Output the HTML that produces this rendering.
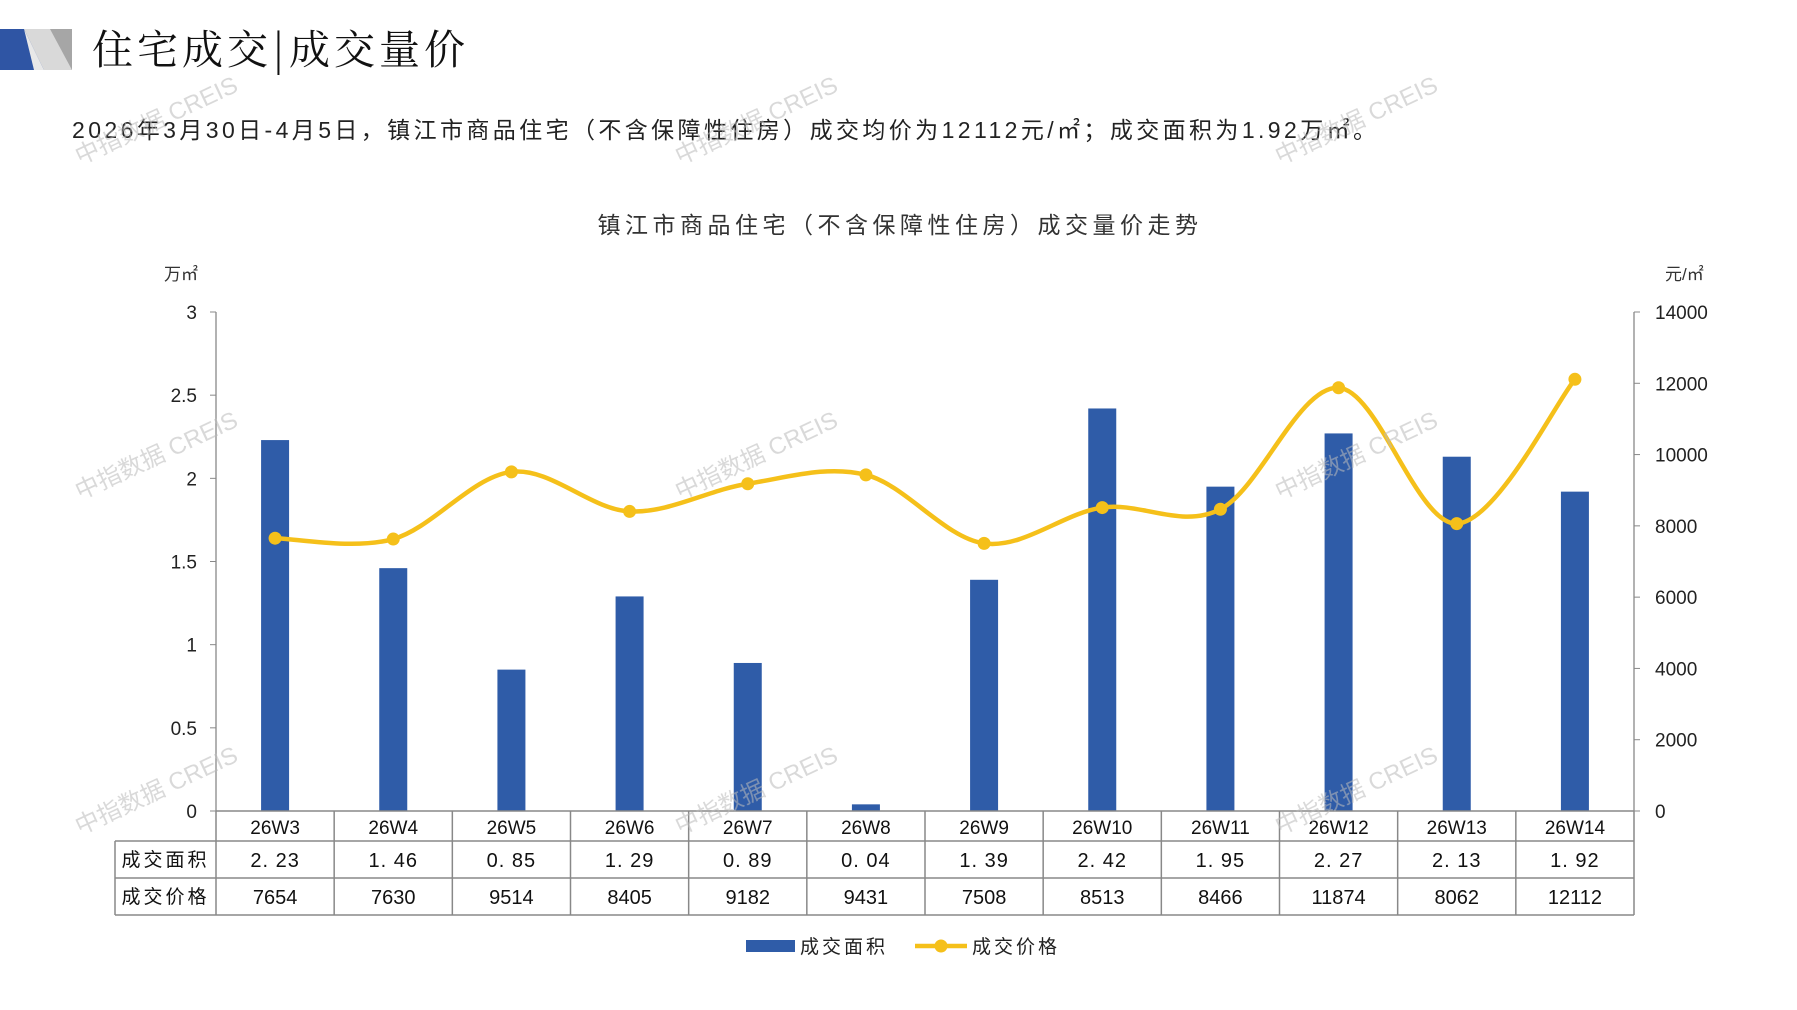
<!DOCTYPE html>
<html><head><meta charset="utf-8">
<style>
body{margin:0;background:#fff;width:1797px;height:1010px;overflow:hidden;font-family:"Liberation Sans","Noto Sans CJK SC",sans-serif;}
svg{position:absolute;left:0;top:0}
</style></head><body>
<svg id="s" width="1797" height="1010" xmlns="http://www.w3.org/2000/svg" font-family="'Liberation Sans','Noto Sans CJK SC',sans-serif">
<polygon points="0,29 34,29 44,70 0,70" fill="#2f55a4"/>
<polygon points="24,29 72,29 72,70 44,70" fill="#d9d9d9"/>
<polygon points="50,29 72,29 72,70" fill="#a6a6a6"/>
<polygon points="24,29 44,70 34,70" fill="#e8e8e8"/>
<text x="92" y="64" font-size="41" fill="#111" letter-spacing="4" font-family="'Noto Serif CJK SC','Noto Sans CJK SC',serif">住宅成交|成交量价</text>
<text x="72" y="138" font-size="23" fill="#222" letter-spacing="3.4">2026年3月30日-4月5日，镇江市商品住宅（不含保障性住房）成交均价为12112元/㎡；成交面积为1.92万㎡。</text>
<text x="900" y="233" font-size="23" fill="#333" text-anchor="middle" letter-spacing="4.5">镇江市商品住宅（不含保障性住房）成交量价走势</text>
<text x="164" y="280" font-size="17" fill="#333">万㎡</text>
<text x="1665" y="280" font-size="17" fill="#333">元/㎡</text>
<g id="g"></g>
</svg>
<script>
const g=document.getElementById('g');let h='';
const L=216,R=1634,Y0=811,Y3=312,cw=(R-L)/12;
const cats=['26W3','26W4','26W5','26W6','26W7','26W8','26W9','26W10','26W11','26W12','26W13','26W14'];
const a=[2.23,1.46,0.85,1.29,0.89,0.04,1.39,2.42,1.95,2.27,2.13,1.92];
const p=[7654,7630,9514,8405,9182,9431,7508,8513,8466,11874,8062,12112];
const ya=v=>Y0-(Y0-Y3)*v/3, yp=v=>Y0-(Y0-Y3)*v/14000;
h+=`<line x1="${L}" y1="${Y3}" x2="${L}" y2="${Y0}" stroke="#888" stroke-width="1.3"/>`;
h+=`<line x1="${R}" y1="${Y3}" x2="${R}" y2="${Y0}" stroke="#888" stroke-width="1.3"/>`;
for(let i=0;i<=6;i++){const v=i*0.5,y=ya(v);
 h+=`<line x1="${L-6}" y1="${y}" x2="${L}" y2="${y}" stroke="#888"/>`;
 h+=`<text x="${L-19}" y="${y+7}" font-size="19" text-anchor="end" fill="#222">${v===0?'0':v}</text>`;}
for(let i=0;i<=7;i++){const v=i*2000,y=yp(v);
 h+=`<line x1="${R}" y1="${y}" x2="${R+6}" y2="${y}" stroke="#888"/>`;
 h+=`<text x="${R+21}" y="${y+7}" font-size="19" fill="#222">${v}</text>`;}
a.forEach((v,i)=>{const cx=L+cw*(i+0.5);h+=`<rect x="${cx-14}" y="${ya(v)}" width="28" height="${Y0-ya(v)}" fill="#2f5ca8"/>`;});
const TL=115,r1=Y0,r2=841,r3=878,r4=915;
h+=`<g stroke="#888" stroke-width="1.5" fill="none"><line x1="${L}" y1="${r1}" x2="${R}" y2="${r1}"/><line x1="${TL}" y1="${r2}" x2="${R}" y2="${r2}"/><line x1="${TL}" y1="${r3}" x2="${R}" y2="${r3}"/><line x1="${TL}" y1="${r4}" x2="${R}" y2="${r4}"/><line x1="${TL}" y1="${r2}" x2="${TL}" y2="${r4}"/>`;
for(let i=0;i<=12;i++){const x=L+cw*i;h+=`<line x1="${x}" y1="${r1}" x2="${x}" y2="${r4}"/>`;}
h+='</g>';
cats.forEach((c,i)=>{const cx=L+cw*(i+0.5);
 h+=`<text x="${cx}" y="${r1+23}" font-size="19" text-anchor="middle" fill="#111">${c}</text>`;
 h+=`<text x="${cx}" y="${r2+26}" font-size="20" text-anchor="middle" fill="#111" letter-spacing="1">${a[i].toFixed(2).replace('.', '. ')}</text>`;
 h+=`<text x="${cx}" y="${r3+26}" font-size="20" text-anchor="middle" fill="#111">${p[i]}</text>`;});
h+=`<text x="${(TL+L)/2}" y="${r2+25}" font-size="19" text-anchor="middle" fill="#111" letter-spacing="3">成交面积</text>`;
h+=`<text x="${(TL+L)/2}" y="${r3+25}" font-size="19" text-anchor="middle" fill="#111" letter-spacing="3">成交价格</text>`;
const pts=p.map((v,i)=>[L+cw*(i+0.5),yp(v)]);
let d=`M${pts[0][0]},${pts[0][1]}`;
for(let i=0;i<pts.length-1;i++){const p0=pts[Math.max(0,i-1)],p1=pts[i],p2=pts[i+1],p3=pts[Math.min(pts.length-1,i+2)];
 const c1=[p1[0]+(p2[0]-p0[0])/6,p1[1]+(p2[1]-p0[1])/6],c2=[p2[0]-(p3[0]-p1[0])/6,p2[1]-(p3[1]-p1[1])/6];
 d+=` C${c1[0]},${c1[1]} ${c2[0]},${c2[1]} ${p2[0]},${p2[1]}`;}
h+=`<path d="${d}" fill="none" stroke="#f5c01a" stroke-width="4.5"/>`;
pts.forEach(q=>h+=`<circle cx="${q[0]}" cy="${q[1]}" r="6.5" fill="#f5c01a"/>`);
h+=`<rect x="746" y="940" width="49" height="12" fill="#2f5ca8"/><text x="800" y="953" font-size="19" fill="#222" letter-spacing="3">成交面积</text>`;
h+=`<line x1="915" y1="946" x2="967" y2="946" stroke="#f5c01a" stroke-width="4.5"/><circle cx="941" cy="946" r="6.5" fill="#f5c01a"/><text x="972" y="953" font-size="19" fill="#222" letter-spacing="3">成交价格</text>`;
[[80,165],[680,165],[1280,165],[80,500],[680,500],[1280,500],[80,835],[680,835],[1280,835]].forEach(w=>h+=`<text x="${w[0]}" y="${w[1]}" font-size="24" fill="#bbb" opacity="0.55" transform="rotate(-25 ${w[0]} ${w[1]})">中指数据 CREIS</text>`);
g.innerHTML=h;
</script>
</body></html>
